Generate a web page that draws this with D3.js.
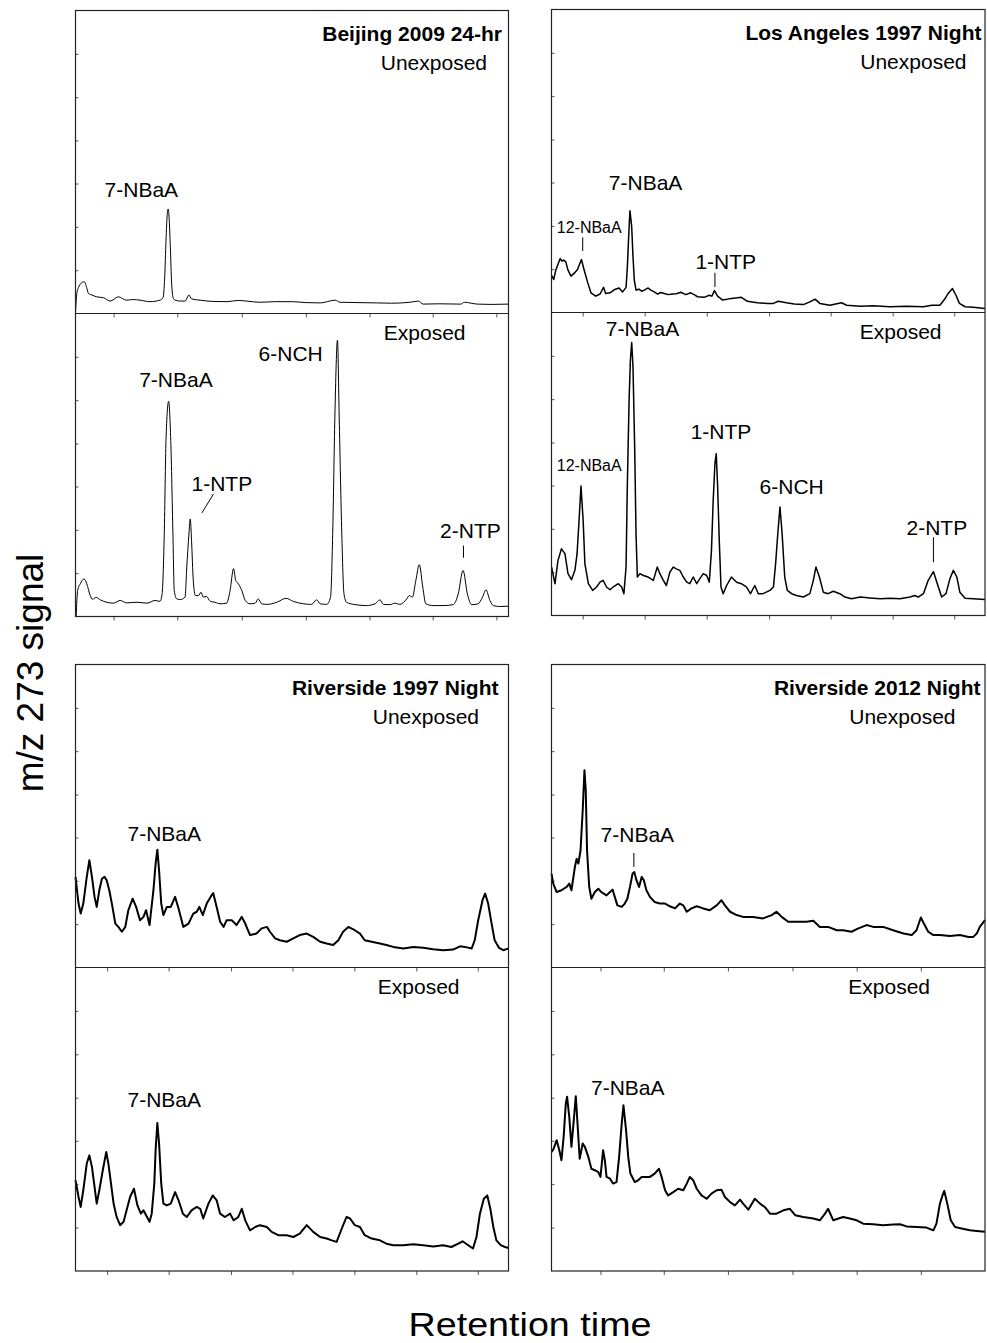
<!DOCTYPE html>
<html><head><meta charset="utf-8">
<script src="https://cdn.jsdelivr.net/npm/d3@7"></script>
<style>
html,body{margin:0;padding:0;background:#fff;}
text{font-family:"Liberation Sans",Arial,Helvetica,sans-serif;fill:#000;}
</style></head>
<body>
<svg id="chart" width="987" height="1343"></svg>
<script>
// ---------- DATA (retention time: % of run window, signal: % of sub-panel full scale) ----------
const beijingUnexposed = [[0,0],[0.3,6.6],[0.7,8.6],[1.3,10],[2.0,10.5],[2.6,8.5],[3.0,6.6],[3.8,6.1],[4.9,5.5],[6.5,5.2],[8.0,4.1],[9.9,5.5],[11.8,4.4],[13.2,4.6],[14.9,4.4],[17.2,3.9],[19.5,4.4],[20.2,5.2],[20.6,12],[20.9,24],[21.2,33],[21.4,34.5],[21.6,32],[21.9,22],[22.2,10],[22.6,5],[23.0,4.4],[24.2,4.1],[25.3,4.1],[26.2,6.1],[26.8,4.8],[28.8,4.4],[31.5,4.0],[35.0,3.9],[37.5,4.3],[39.5,4.1],[42.6,3.7],[46.0,3.9],[50.3,3.9],[53.0,3.6],[56.5,3.5],[60.0,4.4],[61.1,3.7],[65.0,3.6],[69.5,3.5],[73.0,3.4],[77.2,3.7],[79.2,4.1],[80.3,3.1],[84.0,3.2],[89.0,3.1],[89.8,3.7],[92.8,3.1],[96.0,3.0],[100,3.1]];
const beijingExposed = [[0.15,0],[0.5,8.6],[1.1,10.8],[2.0,12.4],[2.6,10.8],[3.4,6.9],[3.9,5.7],[4.8,6.3],[5.7,5.5],[7.2,4.7],[8.8,4.4],[10.3,5.3],[11.8,4.5],[14.2,4.7],[16.5,4.4],[18.4,5.3],[19.5,5.0],[20.0,7.5],[20.5,27.3],[20.9,58.1],[21.5,71.0],[22.0,58.1],[22.5,27.3],[22.8,8.6],[23.4,5.8],[24.2,5.6],[25.3,6.4],[25.7,16.3],[26.2,27.3],[26.5,32.2],[26.8,25.1],[27.2,11.9],[27.7,6.9],[28.4,6.9],[29.0,8.0],[29.5,6.4],[30.3,6.6],[31.1,5.0],[32.2,4.7],[33.4,4.2],[34.9,4.4],[35.7,8.6],[36.5,15.8],[37.0,11.9],[37.6,10.8],[38.4,8.6],[39.2,5.3],[40.3,4.2],[41.5,4.4],[42.2,5.8],[43.0,4.2],[44.2,4.0],[46.5,4.7],[48.6,6.0],[50.3,5.0],[52.6,4.2],[54.5,4.0],[55.7,5.5],[56.5,4.2],[58.0,4.0],[58.9,6.4],[59.4,27.3],[59.9,65.9],[60.5,91.2],[60.9,65.9],[61.5,27.3],[62.0,7.5],[62.6,4.7],[64.2,4.0],[67.2,3.6],[69.2,4.2],[70.3,5.5],[71.1,4.0],[72.6,3.9],[73.8,4.4],[74.9,4.0],[76.5,5.8],[77.1,6.9],[77.8,6.4],[78.6,11.9],[79.4,17.1],[80.2,9.7],[80.9,4.2],[82.6,3.6],[84.9,3.6],[87.2,3.9],[88.4,7.5],[89.5,15.2],[90.5,7.5],[91.5,3.9],[93.0,4.2],[94.0,6.4],[94.8,8.8],[95.7,5.3],[96.5,3.6],[98.0,3.3],[100,3.4]];
const laUnexposed = [[0,12.3],[0.5,10.9],[1.0,14.0],[2.0,17.8],[2.4,17.0],[2.8,17.3],[3.3,16.7],[3.8,14.0],[4.5,12.0],[5.2,12.9],[6.0,14.2],[6.9,17.5],[7.5,14.2],[8.3,10.1],[9.1,6.5],[10.2,5.4],[11.2,6.1],[12.0,8.3],[12.5,6.3],[13.5,6.5],[14.6,7.6],[15.6,8.1],[16.4,6.8],[17.2,8.3],[17.5,15.1],[17.8,25.0],[18.1,33.6],[18.5,28.3],[18.8,18.4],[19.1,10.7],[19.5,7.4],[20.2,7.7],[20.8,7.0],[21.4,7.4],[22.3,8.1],[22.9,7.4],[23.6,6.9],[24.5,6.1],[25.2,6.6],[26.0,6.3],[27.0,5.9],[27.9,6.1],[28.8,6.2],[29.8,6.7],[31.0,5.9],[32.1,6.5],[33.0,5.8],[33.7,5.2],[35.2,5.0],[36.4,5.7],[37.0,5.4],[37.6,7.2],[38.3,5.4],[39.5,4.1],[41.0,4.5],[42.5,4.8],[43.8,5.0],[45.2,3.7],[46.3,3.5],[47.5,3.2],[49.8,3.0],[51.2,3.0],[52.3,3.7],[54.2,3.2],[56.0,2.8],[58.1,2.6],[59.6,3.5],[60.8,4.4],[61.9,3.0],[64.2,2.4],[66.9,3.2],[68.1,2.4],[71.2,2.1],[74.2,2.2],[78.1,1.9],[81.9,2.1],[85.8,1.9],[87.7,2.4],[89.6,2.4],[90.8,4.6],[91.5,6.3],[92.5,7.9],[93.3,5.7],[94.1,3.0],[95.4,1.9],[97.3,1.7],[100,1.3]];
const laExposed = [[0,16.0],[0.8,10.5],[1.5,18.2],[2.3,22.0],[3.1,20.4],[3.8,13.8],[4.6,11.8],[5.4,14.9],[5.9,20.4],[6.4,32.5],[6.8,42.7],[7.3,31.4],[7.7,17.1],[8.5,10.5],[9.5,8.3],[10.4,9.4],[11.2,11.0],[11.9,11.6],[12.7,9.4],[13.5,8.5],[14.2,9.4],[15.4,10.5],[16.2,9.4],[16.7,7.2],[17.2,16.0],[17.5,43.5],[17.9,71.0],[18.2,84.3],[18.5,90.1],[18.8,82.0],[19.2,54.5],[19.5,27.0],[19.8,12.7],[20.4,13.8],[21.2,13.2],[22.3,12.7],[23.5,11.6],[24.4,16.0],[25.0,13.8],[25.8,11.6],[26.5,9.9],[27.3,14.3],[28.1,16.0],[28.8,15.4],[29.6,14.9],[30.4,12.7],[31.2,11.0],[31.9,10.5],[32.7,12.7],[33.5,10.5],[34.2,12.1],[35.0,13.8],[35.8,13.2],[36.4,11.0],[36.9,21.5],[37.3,38.0],[37.7,50.1],[38.0,53.4],[38.3,43.5],[38.7,24.8],[39.1,9.4],[39.6,7.2],[40.4,9.9],[41.5,12.7],[42.7,11.0],[43.8,10.5],[45.0,9.4],[45.9,7.2],[46.9,9.9],[47.7,7.2],[48.8,7.2],[50.4,8.3],[51.2,9.4],[51.7,17.1],[52.2,27.0],[52.7,35.8],[53.2,27.0],[53.8,12.7],[54.4,8.3],[55.4,7.2],[56.5,6.6],[58.1,6.1],[59.6,7.2],[60.4,11.6],[61.0,16.0],[61.8,12.7],[62.7,7.7],[63.8,7.2],[65.0,8.0],[66.5,7.2],[67.7,6.1],[69.2,5.5],[71.2,6.1],[73.5,5.8],[75.8,5.5],[78.1,5.7],[80.4,5.5],[82.7,6.1],[83.8,6.6],[84.6,6.1],[85.8,7.2],[86.9,11.6],[88.1,14.5],[89.0,10.5],[90.0,6.1],[91.0,7.2],[91.9,12.1],[92.7,14.9],[93.5,12.7],[94.2,7.7],[95.4,5.7],[97.3,5.5],[100,5.3]];
const riv1997Unexposed = [[0,29.9],[0.7,21.1],[1.2,17.8],[1.8,21.1],[2.6,29.9],[3.2,35.4],[3.8,29.9],[4.4,23.3],[4.9,20.0],[5.5,25.5],[6.1,29.3],[6.7,29.9],[7.2,28.8],[7.8,25.5],[8.4,21.1],[9.2,14.5],[9.9,13.4],[10.7,11.8],[11.5,13.4],[12.2,18.9],[13.2,22.7],[14.0,20.0],[14.9,15.6],[15.7,16.7],[16.3,18.9],[17.1,14.0],[18.0,25.5],[18.5,34.3],[18.9,38.9],[19.3,32.1],[19.8,21.1],[20.3,17.3],[21.1,20.0],[22.0,20.0],[23.0,23.3],[23.8,19.5],[24.9,13.4],[26.1,14.5],[27.2,17.8],[28.0,18.4],[28.6,20.0],[29.4,17.3],[30.3,21.1],[31.2,23.3],[31.8,24.6],[32.6,20.0],[33.4,15.1],[34.2,13.4],[34.9,15.6],[36.1,15.6],[37.2,14.0],[38.4,16.7],[39.2,14.5],[40.3,10.7],[41.8,11.2],[43.0,12.9],[44.2,13.4],[44.9,11.8],[46.1,9.6],[47.2,9.0],[48.8,8.5],[50.3,9.6],[51.8,10.7],[53.4,11.2],[54.9,10.1],[56.5,8.5],[58.0,7.9],[59.5,7.4],[60.7,9.0],[61.8,11.8],[63.0,13.4],[64.5,12.3],[65.7,11.2],[66.8,9.0],[68.4,8.5],[70.3,7.9],[71.8,7.4],[73.4,6.8],[75.7,6.3],[78.0,6.8],[80.3,6.5],[82.6,6.0],[84.9,5.7],[87.2,5.9],[88.8,7.0],[89.9,6.8],[91.5,6.3],[92.2,9.0],[93.0,15.6],[94.0,22.2],[94.6,24.4],[95.3,21.1],[96.1,14.5],[96.8,9.0],[97.8,6.5],[98.8,5.7],[100,6.3]];
const riv1997Exposed = [[0,29.9],[0.7,24.4],[1.2,21.1],[1.8,26.6],[2.6,35.4],[3.2,38.1],[3.8,34.3],[4.4,27.7],[4.9,22.2],[5.5,26.6],[6.3,33.2],[7.1,39.2],[7.6,35.4],[8.2,28.8],[8.8,22.2],[9.5,17.8],[10.3,15.1],[11.1,16.2],[11.8,20.0],[12.6,24.4],[13.5,27.1],[14.3,21.6],[15.1,18.9],[15.7,20.0],[16.3,18.4],[17.1,16.2],[17.6,18.9],[18.2,28.8],[18.5,39.8],[18.9,48.8],[19.3,42.0],[19.8,28.8],[20.3,22.2],[21.1,21.6],[22.0,22.2],[23.0,26.0],[23.8,23.3],[24.8,18.9],[25.7,17.8],[26.8,20.0],[28.0,21.1],[28.8,20.5],[29.5,17.3],[30.7,22.2],[31.7,24.9],[32.6,23.3],[33.4,18.9],[34.5,17.8],[35.7,18.9],[36.5,16.7],[37.6,17.8],[38.4,20.5],[39.2,16.7],[40.3,13.4],[41.5,14.5],[42.6,15.1],[44.2,14.5],[45.3,12.9],[46.8,11.8],[48.8,11.8],[50.3,11.2],[51.8,12.3],[53.4,15.1],[54.9,12.9],[56.5,11.2],[58.0,10.7],[59.2,10.1],[60.3,9.6],[61.5,14.0],[62.6,17.8],[63.4,17.3],[64.5,15.1],[65.7,14.5],[66.8,11.8],[68.4,10.7],[70.3,10.1],[71.8,9.0],[73.4,8.5],[75.7,8.5],[78.0,8.8],[80.3,8.5],[82.6,8.1],[84.9,8.5],[86.8,7.9],[88.4,9.0],[89.4,9.8],[90.7,8.5],[91.8,7.4],[92.6,11.2],[93.4,18.9],[94.3,23.8],[95.1,24.9],[95.8,20.5],[96.5,14.5],[97.2,10.1],[98.2,8.5],[99.2,7.9],[100,7.6]];
const riv2012Unexposed = [[0,31.0],[0.4,27.7],[1.2,24.9],[2.3,25.5],[3.5,26.6],[4.1,27.7],[4.6,25.5],[5.4,33.2],[5.8,35.9],[6.2,34.3],[6.7,38.7],[7.2,51.9],[7.6,65.1],[7.9,58.5],[8.2,38.7],[8.7,26.6],[9.2,22.7],[10.0,24.9],[10.8,26.0],[11.5,24.9],[12.7,23.8],[13.5,24.9],[14.1,25.7],[14.6,23.3],[15.2,20.5],[16.2,20.0],[16.9,21.1],[17.5,22.7],[18.1,26.6],[18.7,31.0],[19.1,31.5],[19.6,28.8],[20.2,26.6],[20.8,29.9],[21.3,28.8],[21.9,25.5],[22.7,23.3],[23.8,21.6],[25.0,21.1],[26.2,21.1],[27.3,20.2],[28.5,19.5],[29.6,21.1],[30.4,20.5],[31.2,18.4],[32.3,19.5],[33.5,20.2],[35.0,19.5],[36.5,18.9],[38.1,20.5],[39.2,22.2],[40.0,20.5],[41.2,18.4],[42.7,17.3],[44.2,16.7],[46.5,16.7],[48.8,16.2],[50.8,17.3],[51.9,18.4],[53.1,16.7],[54.6,15.1],[56.5,15.1],[58.8,15.1],[60.4,15.4],[61.9,13.4],[63.8,13.4],[65.8,12.3],[67.3,12.3],[69.2,11.8],[70.8,12.9],[72.7,14.0],[74.2,13.4],[76.5,13.4],[78.8,12.3],[81.2,11.2],[83.1,10.7],[84.2,12.3],[85.2,16.5],[85.9,14.5],[86.9,11.8],[88.1,10.7],[89.6,10.7],[91.9,10.4],[94.2,10.7],[96.2,10.1],[97.3,10.1],[98.1,11.2],[98.8,13.4],[100,15.6]];
const riv2012Exposed = [[0,39.2],[0.5,40.3],[1.2,43.1],[1.8,39.8],[2.3,36.5],[2.8,44.2],[3.3,55.2],[3.6,57.4],[4.1,50.8],[4.6,40.9],[5.2,50.8],[5.6,57.6],[6.0,48.6],[6.5,37.0],[7.2,42.0],[7.7,40.9],[8.5,37.6],[9.2,33.7],[10.0,33.2],[10.8,32.6],[11.3,31.0],[11.6,35.4],[11.9,39.8],[12.3,36.5],[12.7,31.0],[13.5,30.4],[14.2,28.8],[15.0,29.3],[15.6,37.6],[16.2,48.6],[16.6,54.6],[17.2,46.4],[17.7,37.6],[18.2,32.1],[19.2,29.3],[20.0,29.9],[20.8,31.0],[21.5,31.0],[22.7,31.0],[23.8,32.1],[24.8,33.7],[25.4,31.0],[26.2,26.6],[26.9,24.9],[28.1,26.0],[29.2,27.1],[30.4,26.6],[31.2,28.8],[31.9,31.0],[32.7,29.9],[33.5,27.1],[34.6,24.9],[35.8,23.8],[36.9,25.5],[38.1,26.6],[39.2,26.8],[40.0,24.4],[41.2,22.7],[42.3,21.6],[43.5,23.5],[44.2,22.2],[45.4,20.2],[46.9,23.8],[48.1,22.2],[49.2,21.1],[50.4,18.9],[51.9,18.9],[53.5,20.0],[55.0,20.5],[56.2,18.4],[58.1,17.8],[60.4,17.3],[61.9,16.7],[63.1,18.9],[63.8,20.5],[65.0,16.7],[66.2,17.3],[67.3,17.8],[68.8,17.3],[70.4,16.7],[71.9,15.6],[74.2,15.4],[76.5,15.1],[78.8,15.3],[80.4,15.4],[81.9,14.7],[84.2,14.5],[86.5,14.3],[88.1,13.4],[88.8,15.6],[89.6,22.2],[90.2,24.9],[90.6,26.4],[91.3,22.2],[92.1,16.7],[93.1,14.5],[94.6,14.0],[96.5,13.4],[98.1,13.2],[100,12.9]];

// tick positions (retention-time axis, % of window) and signal ticks (% of full scale)
const xTicksBeijing = [8.8, 23.5, 38.4, 53.2, 67.9, 82.5, 97.2];
const xTicksLA = [7.2, 21.5, 35.8, 50.2, 64.4, 78.7, 92.9];
const xTicksRiv1997 = [7.3, 21.5, 35.9, 50.1, 64.4, 78.7, 92.9];
const xTicksRiv2012 = [11.3, 25.9, 40.7, 55.6, 70.4, 85.2];
const yTicks = [14.3, 28.6, 42.9, 57.1, 71.4, 85.7];

// panel titles / sub-labels
const titles = ["Beijing 2009 24-hr", "Los Angeles 1997 Night", "Riverside 1997 Night", "Riverside 2012 Night"];
const subLabels = ["Unexposed", "Exposed"];

// peak annotations: [text, rt (center), signal (baseline), small?, leader [rt1,s1,rt2,s2] or null]
const peaksBeijingU = [["7-NBaA", 15.2, 38.4, false, null]];
const peaksBeijingE = [["7-NBaA", 23.2, 75.9, false, null], ["1-NTP", 33.8, 41.4, false, [31.9,40.5,29.2,34.2]], ["6-NCH", 49.7, 84.2, false, null], ["2-NTP", 91.2, 25.8, false, [89.6,23.4,89.6,19.4]]];
const peaksLAU = [["7-NBaA", 21.7, 40.4, false, null], ["12-NBaA", 8.7, 26.1, true, [7.2,24.8,7.2,20.3]], ["1-NTP", 40.2, 14.2, false, [37.7,13.1,37.7,8.4]]];
const peaksLAE = [["7-NBaA", 21.0, 92.2, false, null], ["1-NTP", 39.1, 58.3, false, null], ["12-NBaA", 8.7, 47.6, true, null], ["6-NCH", 55.4, 40.2, false, null], ["2-NTP", 88.9, 26.6, false, [88.1,25.8,88.1,17.6]]];
const peaksRiv1997U = [["7-NBaA", 20.5, 41.8, false, null]];
const peaksRiv1997E = [["7-NBaA", 20.5, 53.9, false, null]];
const peaksRiv2012U = [["7-NBaA", 19.8, 41.5, false, [19.0,37.8,19.0,33.2]]];
const peaksRiv2012E = [["7-NBaA", 17.6, 58.0, false, null]];

// ---------- LAYOUT ----------
const layout = [
  {x0:75.5, x1:508.5, top:10.5, mid:313.5, bot:616.5, title:titles[0], titleDx:6.5, uDx:21.5, eDx:43, xt:xTicksBeijing,
   traces:[beijingUnexposed, beijingExposed], peaks:[peaksBeijingU, peaksBeijingE], sw:1.0, curve:d3.curveMonotoneX},
  {x0:551.5, x1:985, top:9.5, mid:312.5, bot:615.5, title:titles[1], titleDx:3.5, uDx:18.5, eDx:43.5, xt:xTicksLA,
   traces:[laUnexposed, laExposed], peaks:[peaksLAU, peaksLAE], sw:1.5, curve:d3.curveLinear},
  {x0:75.5, x1:508.5, top:664.5, mid:967.5, bot:1271, title:titles[2], titleDx:10, uDx:29.5, eDx:49, xt:xTicksRiv1997,
   traces:[riv1997Unexposed, riv1997Exposed], peaks:[peaksRiv1997U, peaksRiv1997E], sw:2.0, curve:d3.curveLinear},
  {x0:551.5, x1:985, top:664.5, mid:967.5, bot:1271, title:titles[3], titleDx:4.5, uDx:29.5, eDx:55, xt:xTicksRiv2012,
   traces:[riv2012Unexposed, riv2012Exposed], peaks:[peaksRiv2012U, peaksRiv2012E], sw:2.0, curve:d3.curveLinear}
];

const svg = d3.select("#chart");
const FS = 21;

layout.forEach(p => {
  const g = svg.append("g");
  const x = d3.scaleLinear().domain([0, 100]).range([p.x0, p.x1]);
  const subs = [[p.top, p.mid], [p.mid, p.bot]];
  subs.forEach(([t, b], k) => {
    const y = d3.scaleLinear().domain([0, 100]).range([b, t]);
    const ay = g.append("g").attr("transform", `translate(${p.x0},0)`)
      .call(d3.axisLeft(y).tickValues(yTicks).tickSize(-3).tickFormat(""));
    ay.select(".domain").remove();
    ay.selectAll("line").attr("stroke", "#555");
    const ax = g.append("g").attr("transform", `translate(0,${b})`)
      .call(d3.axisBottom(x).tickValues(p.xt).tickSize(4).tickFormat(""));
    ax.select(".domain").remove();
    ax.selectAll("line").attr("stroke", "#555");
    const line = d3.line().x(d => x(d[0])).y(d => y(d[1])).curve(p.curve);
    g.append("path").datum(p.traces[k]).attr("d", line)
      .attr("fill", "none").attr("stroke", "#000").attr("stroke-width", p.sw).attr("stroke-linejoin", "round");
    p.peaks[k].forEach(([txt, rt, s, small, leader]) => {
      g.append("text").attr("x", x(rt)).attr("y", y(s)).attr("text-anchor", "middle")
        .attr("font-size", small ? 16 : FS).text(txt);
      if (leader) {
        g.append("line").attr("x1", x(leader[0])).attr("y1", y(leader[1]))
          .attr("x2", x(leader[2])).attr("y2", y(leader[3]))
          .attr("stroke", "#000").attr("stroke-width", 1);
      }
    });
  });
  g.append("rect").attr("x", p.x0).attr("y", p.top).attr("width", p.x1 - p.x0).attr("height", p.bot - p.top)
    .attr("fill", "none").attr("stroke", "#222").attr("stroke-width", 1.2);
  g.append("line").attr("x1", p.x0).attr("x2", p.x1).attr("y1", p.mid).attr("y2", p.mid)
    .attr("stroke", "#222").attr("stroke-width", 1.2);
  g.append("text").attr("x", p.x1 - p.titleDx).attr("y", p.top + 30).attr("text-anchor", "end")
    .attr("font-weight", "bold").attr("font-size", FS).text(p.title);
  g.append("text").attr("x", p.x1 - p.uDx).attr("y", p.top + 59.5).attr("text-anchor", "end")
    .attr("font-size", FS).text(subLabels[0]);
  g.append("text").attr("x", p.x1 - p.eDx).attr("y", p.mid + 26).attr("text-anchor", "end")
    .attr("font-size", FS).text(subLabels[1]);
});

svg.append("text").attr("transform", "translate(43,673) rotate(-90)").attr("text-anchor", "middle")
  .attr("font-size", 37).text("m/z 273 signal");
svg.append("text").attr("x", 530).attr("y", 1335.5).attr("text-anchor", "middle")
  .attr("font-size", 33).attr("textLength", 243).attr("lengthAdjust", "spacingAndGlyphs").text("Retention time");
</script>
</body></html>
